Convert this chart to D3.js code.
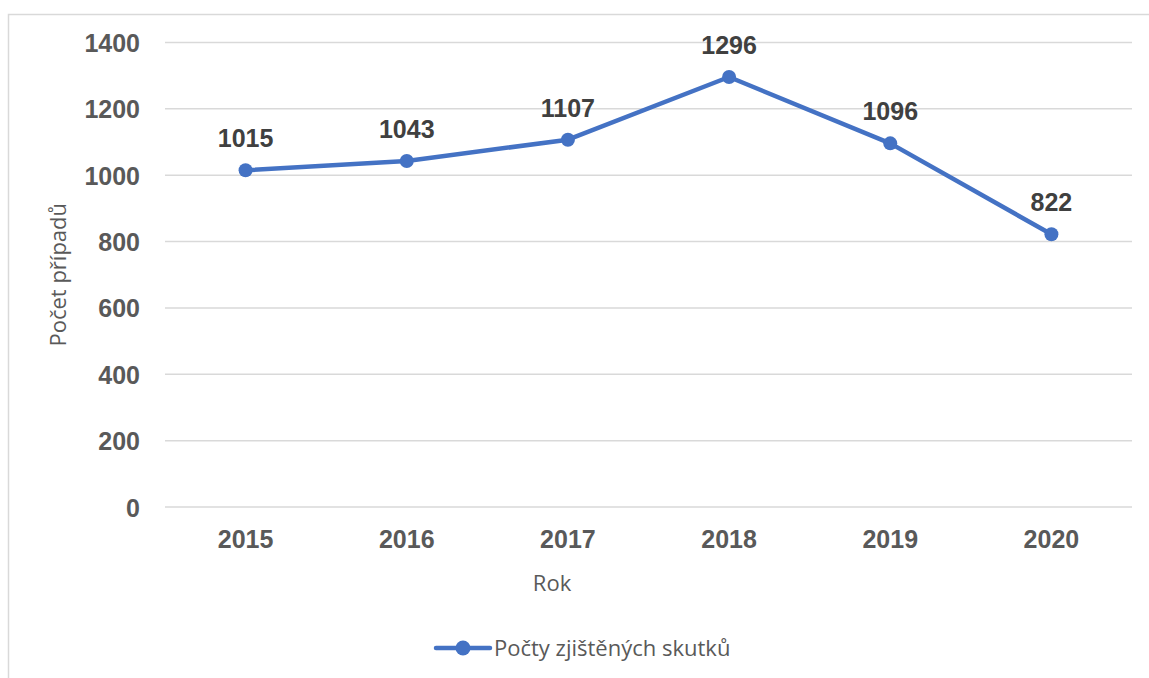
<!DOCTYPE html>
<html>
<head>
<meta charset="utf-8">
<script src="https://cdn.jsdelivr.net/npm/d3@7"></script>
<style>
  body { margin: 0; background: #fff; }
  .tick text { font-family: "Liberation Sans", Arial, sans-serif; font-weight: bold; font-size: 25px; fill: #595959; }
  .axis-title { font-family: "Open Sans", "Noto Sans", sans-serif; font-size: 22px; fill: #595959; }
  .data-label { font-family: "Liberation Sans", Arial, sans-serif; font-weight: bold; font-size: 25px; fill: #404040; }
</style>
</head>
<body>
<svg id="chart"></svg>
<script>
// Data
const years = ['2015', '2016', '2017', '2018', '2019', '2020'];
const counts = [1015, 1043, 1107, 1296, 1096, 822];
const yTicks = [0, 200, 400, 600, 800, 1000, 1200, 1400];
const seriesName = 'Počty zjištěných skutků';

const width = 1149, height = 678;
const margin = {top: 42.5, right: 17, bottom: 171, left: 165};
const innerW = width - margin.left - margin.right;
const innerH = height - margin.top - margin.bottom;
const blue = '#4472C4';

const svg = d3.select('#chart')
    .attr('width', width)
    .attr('height', height);

// chart frame
svg.append('rect')
    .attr('x', 8.5)
    .attr('y', 14.5)
    .attr('width', 1160)
    .attr('height', 700)
    .attr('fill', 'none')
    .attr('stroke', '#d9d9d9')
    .attr('stroke-width', 1.5);

const chart = svg.append('g')
    .attr('transform', `translate(${margin.left},${margin.top})`);

const x = d3.scaleBand()
    .domain(years)
    .range([0, innerW]);

const y = d3.scaleLinear()
    .domain([0, 1400])
    .range([innerH, 0]);

// gridlines
chart.selectAll('.grid')
    .data(yTicks)
  .join('line')
    .attr('class', 'grid')
    .attr('x1', 0)
    .attr('x2', innerW)
    .attr('y1', d => y(d))
    .attr('y2', d => y(d))
    .attr('stroke', '#d9d9d9')
    .attr('stroke-width', 1.5);

// y axis
const yAxisG = chart.append('g')
    .call(d3.axisLeft(y).tickValues(yTicks).tickFormat(d3.format('d')).tickSize(0).tickPadding(25));
yAxisG.select('.domain').remove();
yAxisG.selectAll('.tick text').attr('dy', '0.36em');

// x axis
const xAxisG = chart.append('g')
    .attr('transform', `translate(0,${innerH})`)
    .call(d3.axisBottom(x).tickSize(0).tickPadding(23));
xAxisG.select('.domain').remove();

// line
const line = d3.line()
    .x((d, i) => x(years[i]) + x.bandwidth() / 2)
    .y(d => y(d));

chart.append('path')
    .datum(counts)
    .attr('fill', 'none')
    .attr('stroke', blue)
    .attr('stroke-width', 4.5)
    .attr('stroke-linejoin', 'round')
    .attr('d', line);

chart.selectAll('.dot')
    .data(counts)
  .join('circle')
    .attr('class', 'dot')
    .attr('cx', (d, i) => x(years[i]) + x.bandwidth() / 2)
    .attr('cy', d => y(d))
    .attr('r', 7)
    .attr('fill', blue);

chart.selectAll('.data-label')
    .data(counts)
  .join('text')
    .attr('class', 'data-label')
    .attr('x', (d, i) => x(years[i]) + x.bandwidth() / 2)
    .attr('y', d => y(d) - 23)
    .attr('text-anchor', 'middle')
    .text(d => d);

// axis titles
svg.append('text')
    .attr('class', 'axis-title')
    .attr('transform', `translate(66,${margin.top + innerH / 2}) rotate(-90)`)
    .attr('text-anchor', 'middle')
    .text('Počet případů');

svg.append('text')
    .attr('class', 'axis-title')
    .attr('x', 552)
    .attr('y', 591)
    .attr('text-anchor', 'middle')
    .text('Rok');

// legend
const legend = svg.append('g')
    .attr('transform', 'translate(436,648)');
legend.append('line')
    .attr('x1', 0)
    .attr('x2', 54)
    .attr('stroke', blue)
    .attr('stroke-width', 4.5)
    .attr('stroke-linecap', 'round');
legend.append('circle')
    .attr('cx', 27)
    .attr('r', 7.5)
    .attr('fill', blue);
legend.append('text')
    .attr('class', 'axis-title')
    .attr('x', 58)
    .attr('dy', '0.36em')
    .text(seriesName);
</script>
</body>
</html>
